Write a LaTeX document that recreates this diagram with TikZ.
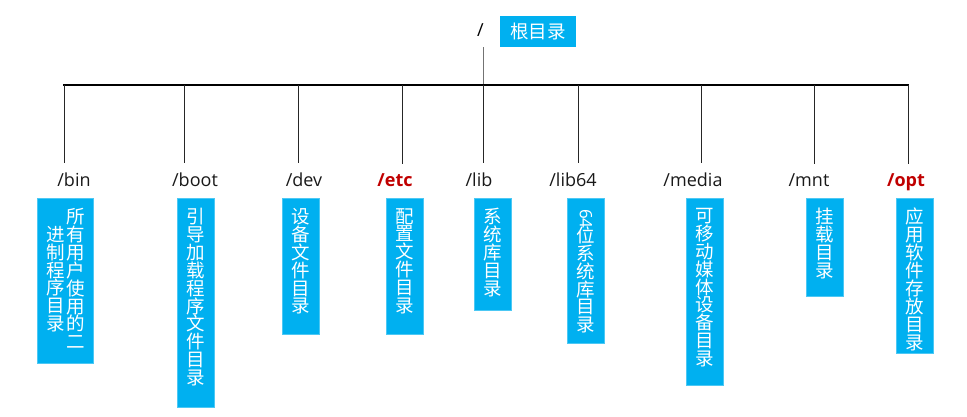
\documentclass[tikz,border=0pt]{standalone}
\usepackage{fontspec}
\usepackage{graphicx}
\setmainfont{Open Sans}
\newfontfamily\cjk{Noto Sans CJK SC}
\definecolor{boxblue}{HTML}{00B0F0}
\definecolor{dirred}{HTML}{C00000}
\tikzset{
  dirbox/.style={fill=boxblue, draw=boxblue!70!white, line width=0.5pt, anchor=north, minimum width=37pt, inner sep=0pt},
  vtext/.style={text=white, font=\cjk\fontsize{18.5}{17.9}\selectfont, align=center, anchor=north, inner sep=0pt},
  dirlbl/.style={font=\fontsize{18}{20}\selectfont, text=black!90, inner sep=0pt, anchor=base},
  redlbl/.style={dirlbl, font=\bfseries\fontsize{18}{20}\selectfont, text=dirred},
  branch/.style={line width=0.8pt, black!85},
  bar/.style={line width=2.6pt, black, line cap=butt}
}
\begin{document}
\begin{tikzpicture}[x=1pt, y=-1pt]
\useasboundingbox (0,0) rectangle (967,416);
% root
\node[font=\fontsize{18}{20}\selectfont, inner sep=0pt] (rslash) at (480.5,30) {/};
\node[fill=boxblue, minimum width=76pt, minimum height=31pt, inner sep=0pt, text=white, font=\cjk\fontsize{18.5}{20}\selectfont] (rbox) at (538,31.5) {根目录};
\coordinate (rtop) at (483,47);
\coordinate (barL) at (63,85);
\coordinate (barR) at (909,85);
\foreach \n/\x in {t1/64,t2/184,t3/298,t4/402,t5/483,t6/578,t7/701,t8/814,t9/908}
  \coordinate (\n) at (\x,85);
\draw[line width=0.8pt, black!55] (rtop) -- (t5);
\draw[bar] (barL) -- (barR);
% labels
\node[dirlbl] (lbin) at (74,186) {/bin};
\node[dirlbl] (lboot) at (195,186) {/boot};
\node[dirlbl] (ldev) at (304,186) {/dev};
\node[redlbl] (letc) at (395,186) {/etc};
\node[dirlbl] (llib) at (479,186) {/lib};
\node[dirlbl] (llib64) at (573,186) {/lib64};
\node[dirlbl] (lmedia) at (693,186) {/media};
\node[dirlbl] (lmnt) at (809,186) {/mnt};
\node[redlbl] (lopt) at (906,186) {/opt};
% branches
\foreach \t/\l in {t1/lbin,t2/lboot,t3/ldev,t4/letc,t5/llib,t6/llib64,t7/lmedia,t8/lmnt,t9/lopt}
  \draw[branch] (\t) -- ([yshift=9pt]\t |- \l.north);
% boxes
\node[dirbox, minimum width=56pt, minimum height=165pt] (bbin) at (65,198) {};
\node[dirbox, minimum height=209pt] (bboot) at (195.5,198) {};
\node[dirbox, minimum height=136pt] (bdev) at (300.5,198) {};
\node[dirbox, minimum height=136pt] (betc) at (404.5,198) {};
\node[dirbox, minimum height=112pt] (blib) at (492.5,198) {};
\node[dirbox, minimum height=145pt] (blib64) at (586,198) {};
\node[dirbox, minimum height=187pt] (bmedia) at (704.5,198) {};
\node[dirbox, minimum height=98pt] (bmnt) at (824.5,198) {};
\node[dirbox, minimum height=155pt] (bopt) at (915,198) {};
% vertical texts
\node[vtext] (vbin1) at ([xshift=11pt,yshift=-10pt]bbin.north) {所\\有\\用\\户\\使\\用\\的\\二};
\node[vtext] (vbin2) at ([xshift=-9pt,yshift=-27.9pt]bbin.north) {进\\制\\程\\序\\目\\录};
\node[vtext] (vboot) at ([yshift=-10pt]bboot.north) {引\\导\\加\\载\\程\\序\\文\\件\\目\\录};
\node[vtext] (vdev) at ([yshift=-10pt]bdev.north) {设\\备\\文\\件\\目\\录};
\node[vtext] (vetc) at ([yshift=-10pt]betc.north) {配\\置\\文\\件\\目\\录};
\node[vtext] (vlib) at ([yshift=-10pt]blib.north) {系\\统\\库\\目\\录};
\node[text=white, font=\fontsize{17}{18}\selectfont, rotate=-90, inner sep=0pt, anchor=west] (v64) at ([yshift=-11pt]blib64.north) {64};
\node[vtext] (vlib64) at ([yshift=-28.5pt]blib64.north) {位\\系\\统\\库\\目\\录};
\node[vtext] (vmedia) at ([yshift=-10pt]bmedia.north) {可\\移\\动\\媒\\体\\设\\备\\目\\录};
\node[vtext] (vmnt) at ([yshift=-10pt]bmnt.north) {挂\\载\\目\\录};
\node[vtext] (vopt) at ([yshift=-10pt]bopt.north) {应\\用\\软\\件\\存\\放\\目\\录};
\end{tikzpicture}
\end{document}
